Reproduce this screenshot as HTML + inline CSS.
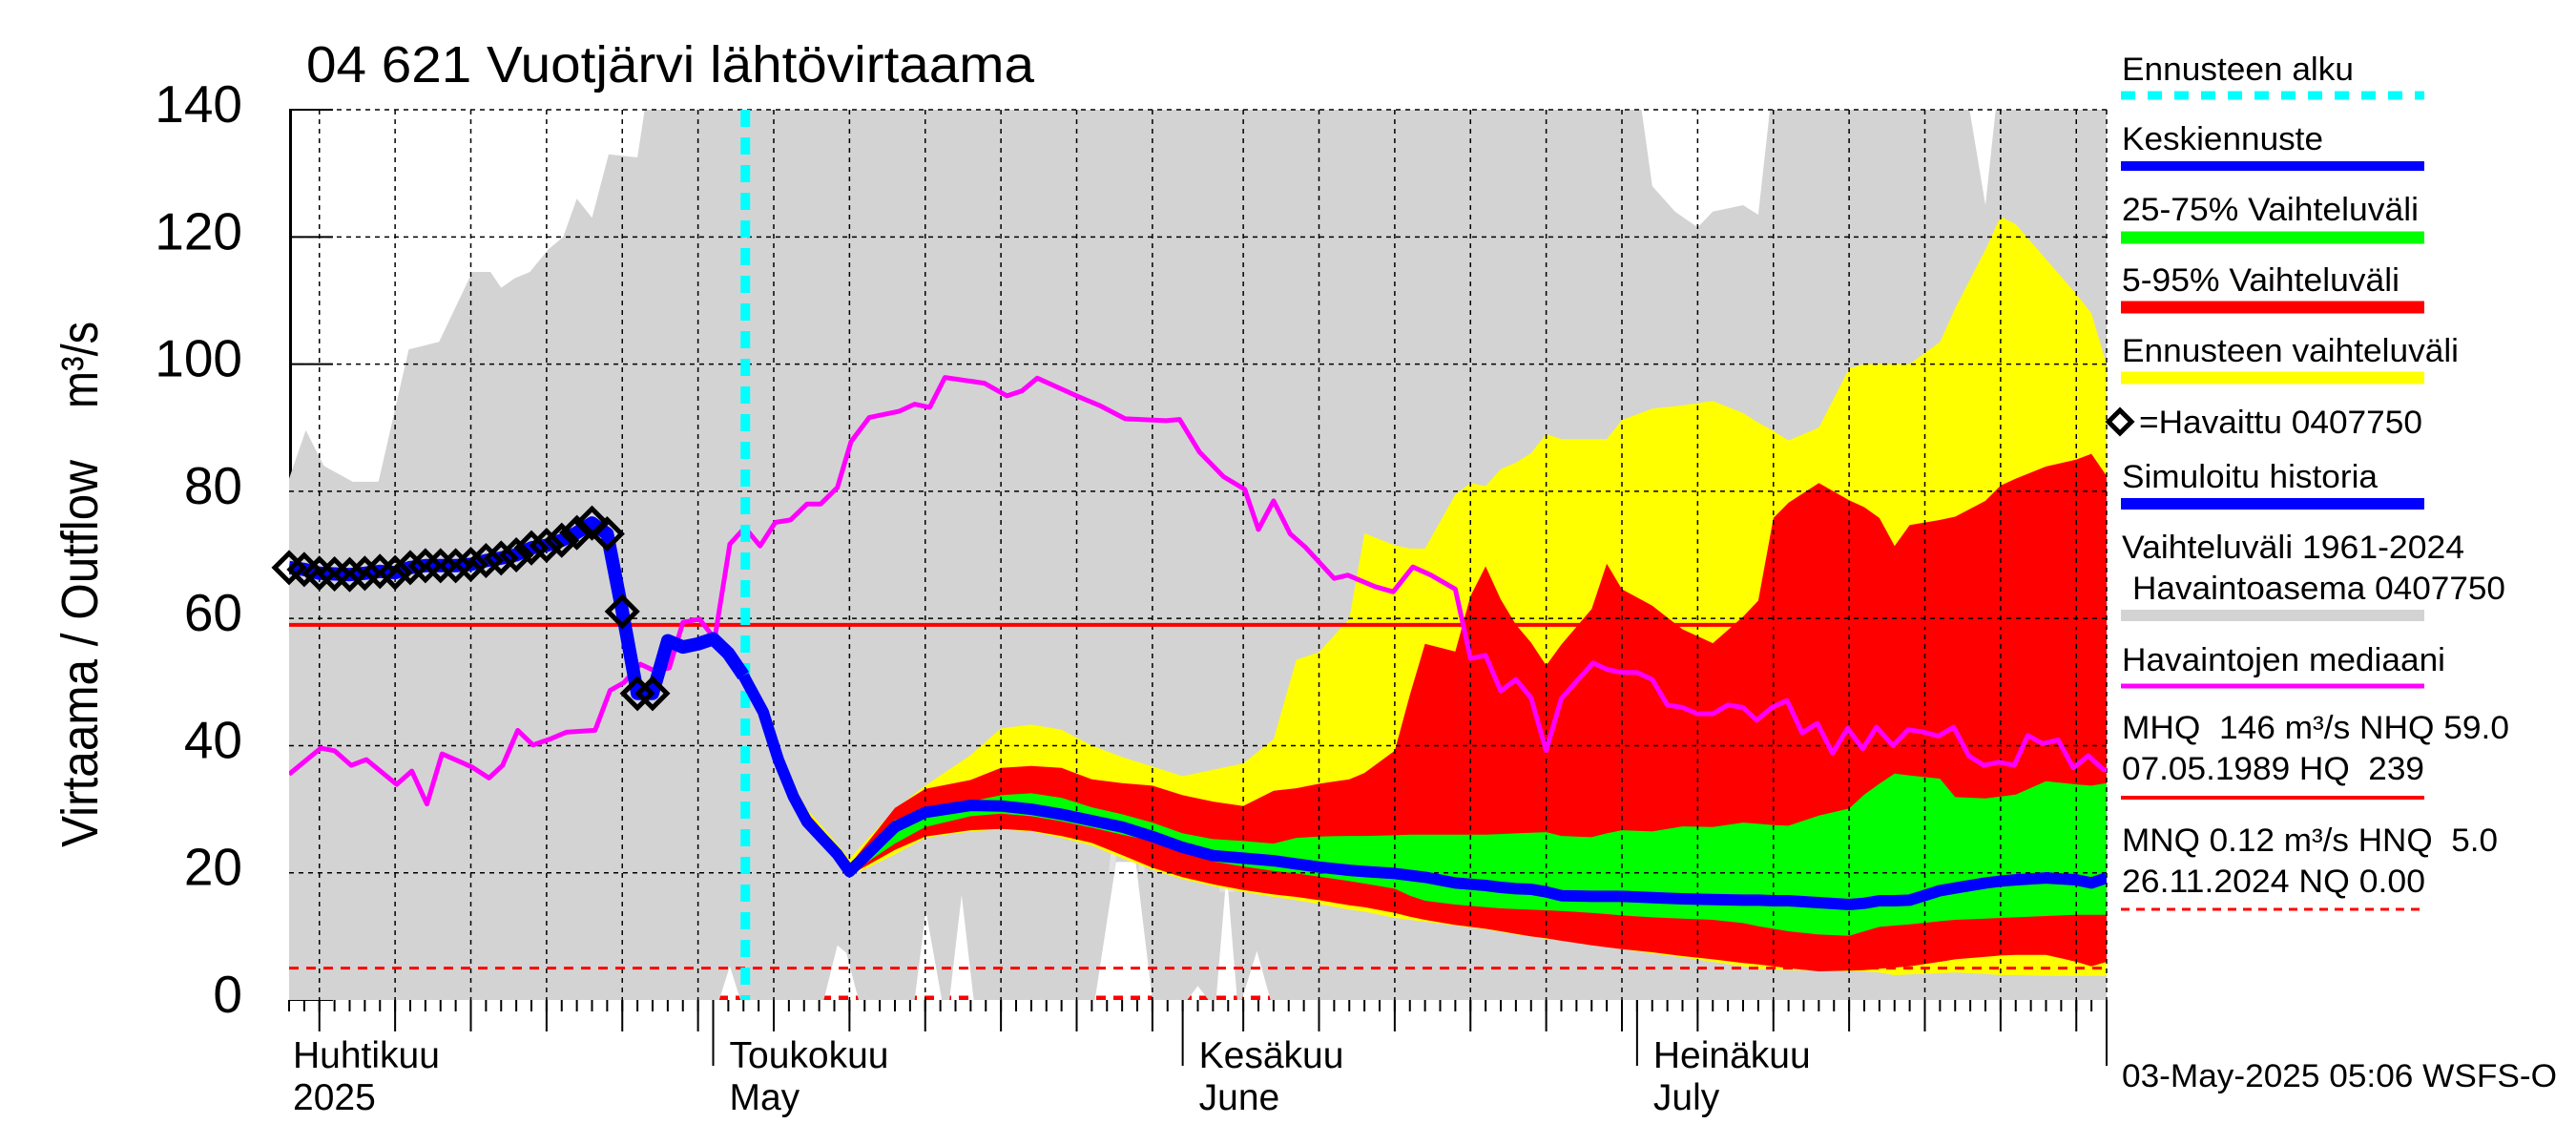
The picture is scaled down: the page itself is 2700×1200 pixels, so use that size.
<!DOCTYPE html>
<html><head><meta charset="utf-8"><title>Vuotjärvi lähtövirtaama</title>
<style>
html,body{margin:0;padding:0;background:#fff;}
svg{display:block;font-family:"Liberation Sans",Arial,sans-serif;}
text{white-space:pre;}
</style></head>
<body>
<svg id="chart" xmlns="http://www.w3.org/2000/svg" width="2700" height="1200" viewBox="0 0 2700 1200">
<defs><clipPath id="plotclip"><rect x="303" y="115" width="1905" height="933"/></clipPath></defs>
<rect x="0" y="0" width="2700" height="1200" fill="#fff"/>
<g id="layer-axisback"></g>
<g id="layer-bg" clip-path="url(#plotclip)"></g>
<g id="layer-bands" clip-path="url(#plotclip)"></g>
<g id="layer-grid"></g>
<g id="layer-lines" clip-path="url(#plotclip)"></g>
<g id="layer-marks"></g>
<g id="layer-xaxis"></g>

<text x="321" y="86" font-size="54" textLength="763" lengthAdjust="spacingAndGlyphs">04 621 Vuotjärvi lähtövirtaama</text>
<text transform="translate(102,888) rotate(-90)" font-size="54" textLength="406" lengthAdjust="spacingAndGlyphs">Virtaama / Outflow</text>
<text transform="translate(102,428) rotate(-90)" font-size="54" textLength="91" lengthAdjust="spacingAndGlyphs">m³/s</text>

<g font-size="55" text-anchor="end" id="ylabels"></g>

<g font-size="34">
  <text x="2224" y="84" textLength="243" lengthAdjust="spacingAndGlyphs">Ennusteen alku</text>
  <line x1="2223" y1="100" x2="2541" y2="100" stroke="#00ffff" stroke-width="9" stroke-dasharray="15 13"/>
  <text x="2224" y="157" textLength="211" lengthAdjust="spacingAndGlyphs">Keskiennuste</text>
  <line x1="2223" y1="174" x2="2541" y2="174" stroke="#0000ff" stroke-width="10"/>
  <text x="2224" y="231" textLength="311" lengthAdjust="spacingAndGlyphs">25-75% Vaihteluväli</text>
  <line x1="2223" y1="249" x2="2541" y2="249" stroke="#00ff00" stroke-width="13"/>
  <text x="2224" y="305" textLength="291" lengthAdjust="spacingAndGlyphs">5-95% Vaihteluväli</text>
  <line x1="2223" y1="322" x2="2541" y2="322" stroke="#ff0000" stroke-width="13"/>
  <text x="2224" y="379" textLength="353" lengthAdjust="spacingAndGlyphs">Ennusteen vaihteluväli</text>
  <line x1="2223" y1="396" x2="2541" y2="396" stroke="#ffff00" stroke-width="13"/>
  <polygon points="2222,430 2234,442 2222,454 2210,442" fill="none" stroke="#000" stroke-width="5"/>
  <text x="2242" y="454" textLength="297" lengthAdjust="spacingAndGlyphs">=Havaittu 0407750</text>
  <text x="2224" y="511" textLength="268" lengthAdjust="spacingAndGlyphs">Simuloitu historia</text>
  <line x1="2223" y1="528" x2="2541" y2="528" stroke="#0000ff" stroke-width="12"/>
  <text x="2224" y="585" textLength="359" lengthAdjust="spacingAndGlyphs">Vaihteluväli 1961-2024</text>
  <text x="2235" y="628" textLength="391" lengthAdjust="spacingAndGlyphs">Havaintoasema 0407750</text>
  <line x1="2223" y1="645" x2="2541" y2="645" stroke="#d3d3d3" stroke-width="12"/>
  <text x="2224" y="703" textLength="339" lengthAdjust="spacingAndGlyphs">Havaintojen mediaani</text>
  <line x1="2223" y1="719" x2="2541" y2="719" stroke="#ff00ff" stroke-width="5"/>
  <text x="2224" y="774" textLength="406" lengthAdjust="spacingAndGlyphs">MHQ  146 m³/s NHQ 59.0</text>
  <text x="2224" y="817" textLength="317" lengthAdjust="spacingAndGlyphs">07.05.1989 HQ  239</text>
  <line x1="2223" y1="836" x2="2541" y2="836" stroke="#ff0000" stroke-width="4"/>
  <text x="2224" y="892" textLength="394" lengthAdjust="spacingAndGlyphs">MNQ 0.12 m³/s HNQ  5.0</text>
  <text x="2224" y="935" textLength="318" lengthAdjust="spacingAndGlyphs">26.11.2024 NQ 0.00</text>
  <line x1="2223" y1="953" x2="2541" y2="953" stroke="#ff0000" stroke-width="3" stroke-dasharray="9 7"/>
</g>
<text x="2224" y="1139" font-size="34" textLength="456" lengthAdjust="spacingAndGlyphs">03-May-2025 05:06 WSFS-O</text>

<script>
// ---- data (t = days since 3 April 2025) ----
const yTicks=[0,20,40,60,80,100,120,140];
const monthStartDays=[-2,28,59,89,120];
const monthLengths=[30,31,30,31];
const monthNames=["Huhtikuu","Toukokuu","Kesäkuu","Heinäkuu"];
const monthSubNames=["2025","May","June","July"];
const forecastStartDay=30;
const nhqValue=59.0;
const hnqValue=5.0;

const grayUpDays=[0,1.1,2.3,4.2,5.9,7.9,9.9,12.1,13.3,14,14.9,15.9,17.1,18.1,19,20,21.1,23,23.8,89,90,91.5,93,94,96,97,98,110.6,112,112.9,120];
const grayUpVals=[82,89.6,84,81.5,81.5,102.3,103.5,114.5,114.5,112,113.5,114.5,118,120,126,123,133,132.5,145,145,128,124,121.5,124,125,123.5,145,145,125,145,145];
const grayLowDays=[0,28.4,29.1,29.8,35.3,36.2,36.8,37.6,41.3,42.05,43.1,43.6,44.4,45.2,53.2,54.6,55.9,57.0,59.3,60.0,60.7,61.2,61.9,62.6,62.9,63.9,64.8,120];
const grayLowVals=[0,0,5.3,0,0,8.6,7.4,0,0,14,0,0,16.5,0,0,21.7,21.7,0,0,2.2,0,0,20,0,0,7.7,0,0];
const outline1Days=[54.3,54.8,55.9,56.3];
const outline1Vals=[20,31,32.4,20];
const outline2Days=[61.6,61.9,62.2];
const outline2Vals=[17,23.7,17];

const obsDays=[0,1,2,3,4,5,6,7,8,9,10,11,12,13,14,15,16,17,18,19,20,21,22,23,24];
const obsVals=[68.0,67.7,67.1,67.0,66.9,67.1,67.4,67.2,68.0,68.3,68.3,68.3,68.5,69.1,69.5,70.0,71.1,71.5,72.3,73.5,75.0,73.3,61.1,48.2,48.2];
const simDays=[0,1,2,3,4,5,6,7,8,9,10,11,12,13,14,15,16,17,18,19,20,21,22,23,24,25,26,27,28,29,30];
const simVals=[68.0,67.7,67.1,67.0,66.9,67.1,67.4,67.2,68.0,68.3,68.3,68.3,68.5,69.1,69.5,70.0,71.1,71.5,72.3,73.5,75.0,73.3,61.1,48.2,48.2,56.5,55.5,56,56.8,54.5,51];

const fcDays=[30,31.3,32.3,33.3,34.2,35.3,36.2,37,40,42,45,47,49,51,53,55,57,59,61,63,65,66.5,68,70,71,73,74,75,77,78,79,80,81,82,83,84,86,87,88,90,92,94,96,97,98,99,101,103,104,105,106,107,109,110,112,113,114,116,118,119,120];
const yTop=[51,46,40,34,30,27,24.5,22.2,30,33.7,38.5,42.7,43.3,42.5,40,38.2,36.7,35.2,36.2,37.2,41,53.5,54.7,60,73.4,71.5,71,71,79.5,81.3,80.8,83.5,84.5,86,89,88.2,88.2,88.2,91.2,93,93.5,94.2,92.3,90.8,89.5,88,90,99.3,100,100,100,100,103.5,108.8,118,123.2,122,116.5,111,108,99.9];
const rTop=[51,45.8,39.5,33.5,29.5,26.5,24,21.2,30.2,33.2,34.6,36.5,36.8,36.5,34.7,34.1,33.7,32.2,31.2,30.5,32.9,33.3,34,34.7,35.7,39.2,48,56,54.8,63.5,68.2,63,59,56.2,52.6,55.9,61.5,68.6,64.6,62,58.3,56.1,60.3,62.8,75.8,78.2,81.3,78.6,77.5,75.8,71.4,74.7,75.5,76,78.5,80.9,82,83.9,85,85.9,82.4];
const gTop=[51,45.5,38.8,33,29,26,23.5,20.6,28.3,29.7,31.2,32.2,32.5,31.8,30.3,29.2,27.9,26.2,25.3,25,24.6,25.5,25.7,25.8,25.8,25.9,26,26,26,26,26,26.1,26.2,26.3,26.4,25.8,25.6,26.2,26.7,26.5,27.3,27.2,27.9,27.7,27.5,27.4,29,30.1,32.3,34,35.6,35.3,34.8,31.9,31.7,32,32.3,34.4,33.9,33.7,34.1];
const medVals=[51,45.3,37.8,32,28,25.2,22.9,20.2,27.2,29.5,30.6,30.5,30,29.2,28.2,27.2,25.7,24,22.7,22.3,21.9,21.4,20.9,20.4,20.2,19.9,19.6,19.3,18.4,18.2,18,17.7,17.5,17.4,17,16.4,16.3,16.3,16.3,16.1,15.9,15.8,15.7,15.7,15.6,15.6,15.3,15,15.2,15.6,15.6,15.7,17.2,17.6,18.4,18.7,18.9,19.2,18.9,18.4,19.2];
const gBot=[51,45,37.2,31.6,27.4,24.6,22.4,19.8,24.6,27.2,28.9,29.3,28.9,28.1,27.1,26,25,23.3,21.8,21,20.3,19.9,19.4,18.7,18.3,17.5,16.4,15.6,15,14.8,14.6,14.4,14.3,14.2,14.1,14,13.7,13.5,13.3,13,12.8,12.6,12.1,11.6,11.2,10.8,10.3,10.1,10.8,11.5,11.7,11.9,12.4,12.6,12.8,12.9,13,13.2,13.4,13.4,13.4];
const rBot=[51,44.8,37,31.3,27.1,24.3,22.1,19.6,23.6,25.7,26.7,26.9,26.6,25.8,24.7,22.8,20.8,19.3,18.2,17.3,16.6,16.2,15.7,14.9,14.6,13.7,13.1,12.6,11.8,11.5,11.2,10.8,10.4,10,9.7,9.3,8.6,8.3,8,7.5,6.9,6.4,5.8,5.6,5.3,5,4.5,4.6,4.7,4.9,5.1,5.3,6,6.4,6.8,7,7.1,7.1,6,5.3,6];
const yBot=[51,44.6,36.8,31,26.8,24,21.7,19.4,22.9,25.5,26.5,26.8,26.5,25.5,24.3,22.3,20.5,19,17.9,17,16.2,15.7,15.1,14.2,13.9,12.9,12.6,12.3,11.7,11.4,11.1,10.7,10.3,10,9.6,9.3,8.6,8.3,8,7.3,6.7,6,5.3,4.9,4.8,4.7,4.6,4.5,4.5,4.3,3.9,4,4.2,4.3,4.1,3.9,3.9,3.8,3.8,3.8,3.8];

const magDays=[0,2.1,3,4.1,5.1,7.1,8.1,9.1,10.1,12.1,13.2,14.1,15.1,16.1,17.2,18.3,20.2,21.2,22.1,23.2,24.1,25.1,26,27.1,28.1,29.1,30.1,31.1,32.1,33.1,34.2,35.1,36.2,37.1,38.3,40.3,41.3,42.3,43.3,45.9,47.4,48.4,49.4,52,53.6,55.2,57.9,58.8,60.1,61.7,63.1,64,65,66.1,67.1,69,69.9,71.7,72.9,74.2,75.4,77,78,79,80,81,82,83,84,85,86.1,87,88,89,90,91,92,93,94,95,96,96.9,97.9,98.9,99.9,100.9,101.9,102.9,103.9,104.8,105.9,106.9,107.8,108.9,109.9,110.9,111.9,112.9,113.9,114.8,115.8,116.8,117.8,118.8,119.8,120];
const magVals=[35.5,39.6,39.2,36.9,37.8,33.9,36.0,30.8,38.7,36.6,34.9,36.9,42.4,40.1,41.0,42.1,42.4,48.7,49.9,52.8,51.8,52.2,59.4,59.9,56.8,71.7,74.3,71.4,75.1,75.5,78.0,78.0,80.6,87.8,91.6,92.6,93.7,93.2,97.9,97.0,95.0,95.8,97.8,95,93.4,91.4,91.1,91.3,86.2,82.3,80.3,74,78.5,73.3,71.2,66.3,66.8,65,64.2,68.1,66.8,64.6,53.7,54.2,48.6,50.4,47.5,39.2,47.4,50.1,53.0,52.0,51.5,51.5,50.4,46.4,46.0,45.0,45.0,46.4,46.0,44.0,46.0,47.1,42.0,43.5,38.8,42.7,39.5,42.9,40.0,42.5,42.2,41.5,42.9,38.4,36.9,37.4,36.9,41.6,40.3,40.9,36.5,38.4,36.2,36.2];

// ---- scales ----
const NS='http://www.w3.org/2000/svg';
function X(t){return 303+t*15.875;}
function Y(v){return 1048-v*6.664;}
function pts(days,vals){return days.map((d,i)=>X(d).toFixed(1)+','+Y(vals[i]).toFixed(1));}
function add(layerId,tag,attrs){
  const e=document.createElementNS(NS,tag);
  for(const k in attrs)e.setAttribute(k,attrs[k]);
  document.getElementById(layerId).appendChild(e);
  return e;
}
let el;

el=add('layer-axisback','line',{x1:304.5,y1:Y(140),x2:304.5,y2:Y(0),stroke:'#000','stroke-width':3});


yTicks.forEach(v=>{
  el=add('layer-axisback','line',{x1:303,y1:Y(v),x2:349,y2:Y(v),stroke:'#000','stroke-width':2});
  
  
  el=add('ylabels','text',{x:254,y:Y(v)+13});
  el.textContent=String(v);
  
  
});

el=add('layer-bg','line',{x1:X(0),y1:Y(0)-2,x2:X(120),y2:Y(0)-2,stroke:'#ff0000','stroke-width':5,'stroke-dasharray':'10 8'});



const up=pts(grayUpDays,grayUpVals);
const low=pts(grayLowDays,grayLowVals).reverse();
el=add('layer-bg','polygon',{points:up.concat(low).join(' '),fill:'#d3d3d3'});


el=add('layer-bg','polyline',{points:pts(outline1Days,outline1Vals).join(' '),fill:'none',stroke:'#e2e2e2','stroke-width':6});


el=add('layer-bg','polyline',{points:pts(outline2Days,outline2Vals).join(' '),fill:'none',stroke:'#e2e2e2','stroke-width':6});



function band(top,bot,color){
  const p=pts(fcDays,top).concat(pts(fcDays,bot).reverse());
  return add('layer-bands','polygon',{points:p.join(' '),fill:color});
}
el=band(yTop,yBot,'#ffff00');


el=band(rTop,rBot,'#ff0000');


el=band(gTop,gBot,'#00ff00');



for(let v=20;v<=140;v+=20){
  el=add('layer-grid','line',{x1:303,y1:Y(v),x2:2208,y2:Y(v),stroke:'#000','stroke-width':1.5,'stroke-dasharray':'5 5'});
  
  
}
const gridDays=[];
monthLengths.forEach((len,mi)=>{for(let d=5;d<=30;d+=5){const t=monthStartDays[mi]+d-1;if(t>0&&t<120)gridDays.push(t);}});
gridDays.forEach(t=>{
  el=add('layer-grid','line',{x1:X(t),y1:Y(140),x2:X(t),y2:Y(0),stroke:'#000','stroke-width':1.5,'stroke-dasharray':'5 5'});
  
  
});
el=add('layer-grid','line',{x1:2208,y1:Y(140),x2:2208,y2:Y(0),stroke:'#000','stroke-width':1.5,'stroke-dasharray':'5 5'});



el=add('layer-lines','line',{x1:303,y1:Y(nhqValue),x2:2208,y2:Y(nhqValue),stroke:'#ff0000','stroke-width':4});


el=add('layer-lines','line',{x1:303,y1:Y(hnqValue),x2:2208,y2:Y(hnqValue),stroke:'#ff0000','stroke-width':3,'stroke-dasharray':'10 8'});



el=add('layer-lines','polyline',{points:pts(magDays,magVals).join(' '),fill:'none',stroke:'#ff00ff','stroke-width':5,'stroke-linejoin':'round'});



el=add('layer-lines','line',{x1:X(forecastStartDay)+2,y1:Y(140),x2:X(forecastStartDay)+2,y2:Y(0),stroke:'#00ffff','stroke-width':10,'stroke-dasharray':'18 11'});



el=add('layer-lines','polyline',{points:pts(simDays,simVals).join(' '),fill:'none',stroke:'#0000ff','stroke-width':14,'stroke-linejoin':'round'});


el=add('layer-lines','polyline',{points:pts(fcDays,medVals).join(' '),fill:'none',stroke:'#0000ff','stroke-width':12,'stroke-linejoin':'round'});



obsDays.forEach((d,i)=>{
  const cx=X(d),cy=Y(obsVals[i]),r=15;
  el=add('layer-marks','polygon',{points:`${cx},${cy-r} ${cx+r},${cy} ${cx},${cy+r} ${cx-r},${cy}`,fill:'none',stroke:'#000','stroke-width':5});
  
  
});

for(let t=0;t<=120;t++){
  el=add('layer-xaxis','line',{x1:X(t),y1:1048,x2:X(t),y2:1060,stroke:'#000','stroke-width':2});
  
  
}
gridDays.forEach(t=>{
  el=add('layer-xaxis','line',{x1:X(t),y1:1048,x2:X(t),y2:1081,stroke:'#000','stroke-width':2});
  
  
});
monthStartDays.forEach(t=>{
  if(t<0)return;
  el=add('layer-xaxis','line',{x1:X(t),y1:1048,x2:X(t),y2:1117,stroke:'#000','stroke-width':2});
  
  
});
monthNames.forEach((n,i)=>{
  const lx=i===0?307:X(monthStartDays[i])+17;
  el=add('layer-xaxis','text',{x:lx,y:1119,'font-size':39});
  el.textContent=n;
  
  
  el=add('layer-xaxis','text',{x:lx,y:1163,'font-size':39});
  el.textContent=monthSubNames[i];
  
  
});
</script>
</svg>
</body></html>
